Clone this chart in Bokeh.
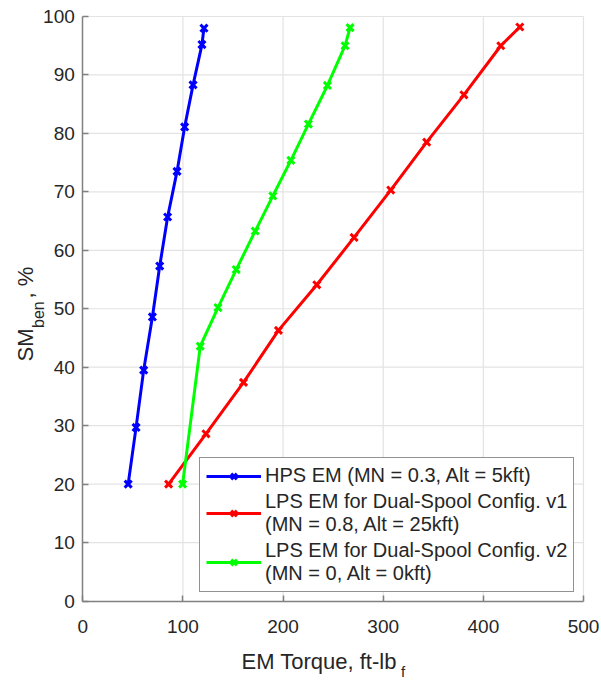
from bokeh.plotting import figure
from bokeh.models import Range1d, Legend, LegendItem, Label, FixedTicker, LinearAxis
from bokeh.embed import file_html
from bokeh.resources import INLINE
import math

# ---- data ----
hps_torque = [45.3, 53.2, 60.8, 69.5, 76.8, 84.7, 94.1, 101.7, 110.1, 119.0, 121.0]
hps_sm = [20.0, 29.7, 39.5, 48.6, 57.3, 65.7, 73.5, 81.1, 88.3, 95.2, 98.0]

lps1_torque = [85.7, 123.0, 160.5, 195.4, 233.7, 270.9, 307.5, 343.4, 380.6, 417.4, 436.4]
lps1_sm = [20.0, 28.6, 37.4, 46.3, 54.1, 62.2, 70.3, 78.5, 86.6, 95.0, 98.2]

lps2_torque = [99.7, 117.3, 135.0, 153.2, 172.2, 189.8, 207.8, 225.3, 244.3, 261.9, 266.9]
lps2_sm = [20.0, 43.6, 50.2, 56.7, 63.3, 69.3, 75.4, 81.6, 88.2, 95.0, 98.1]

series_names = [
    "HPS EM (MN = 0.3, Alt = 5kft)",
    "LPS EM for Dual-Spool Config. v1\n(MN = 0.8, Alt = 25kft)",
    "LPS EM for Dual-Spool Config. v2\n(MN = 0, Alt = 0kft)",
]
series_colors = ["#0000ff", "#ff0000", "#00ff00"]
x_ticks = [0, 100, 200, 300, 400, 500]
y_ticks = [0, 10, 20, 30, 40, 50, 60, 70, 80, 90, 100]

FONT = "Liberation Sans"
TXT = "#262626"
W, H = 601, 681

# plot box inside the canvas (pixels): left/right/top/bottom
BOX_L, BOX_R, BOX_T, BOX_B = 82.3, 583.0, 16.0, 600.5
x0, x1 = x_ticks[0], x_ticks[-1]
y0, y1 = y_ticks[0], y_ticks[-1]
kx = (BOX_R - BOX_L) / (x1 - x0)
ky = (BOX_B - BOX_T) / (y1 - y0)
xr = Range1d(x0 - BOX_L / kx, x0 + (W - BOX_L) / kx)
yr = Range1d(y0 - (H - BOX_B) / ky, y0 + BOX_B / ky)

p = figure(width=W, height=H, output_backend="svg", toolbar_location=None,
           x_range=xr, y_range=yr, x_axis_location=None, y_axis_location=None,
           min_border=0)
p.min_border_left = p.min_border_right = p.min_border_top = p.min_border_bottom = 0
p.outline_line_color = None
p.background_fill_color = "white"
p.border_fill_color = "white"
p.xgrid.visible = False
p.ygrid.visible = False

# grid lines from the tick lists
gx = x_ticks[1:]
gy = y_ticks[1:]
p.segment(x0=gx, y0=[y0] * len(gx), x1=gx, y1=[y1] * len(gx),
          line_color="#e3e3e3", line_width=1.2)
p.segment(x0=[x0] * len(gy), y0=gy, x1=[x1] * len(gy), y1=gy,
          line_color="#e3e3e3", line_width=1.2)

xaxis = LinearAxis(fixed_location=y0, bounds=(x0, x1), ticker=FixedTicker(ticks=x_ticks))
yaxis = LinearAxis(fixed_location=x0, bounds=(y0, y1), ticker=FixedTicker(ticks=y_ticks))
for ax, sd in ((xaxis, 19), (yaxis, 8)):
    ax.axis_line_color = "#808080"
    ax.axis_line_width = 1.5
    ax.major_tick_line_color = "#808080"
    ax.major_tick_line_width = 1.5
    ax.major_tick_in = 6
    ax.major_tick_out = 0
    ax.minor_tick_line_color = None
    ax.major_label_text_font = FONT
    ax.major_label_text_font_size = "19px"
    ax.major_label_text_color = TXT
    ax.major_label_standoff = sd
p.add_layout(xaxis, "below")
p.add_layout(yaxis, "left")

items = []
for xs, ys, name, c in ((hps_torque, hps_sm, series_names[0], series_colors[0]),
                        (lps1_torque, lps1_sm, series_names[1], series_colors[1]),
                        (lps2_torque, lps2_sm, series_names[2], series_colors[2])):
    ln = p.line(xs, ys, line_color=c, line_width=3)
    sc = p.scatter(xs, ys, marker="x", size=10, line_color=c, line_width=3)
    items.append(LegendItem(label=name, renderers=[ln, sc]))

legend = Legend(items=items, location=(199, 89), orientation="vertical")
legend.label_text_font = FONT
legend.label_text_font_size = "20px"
legend.label_text_color = TXT
legend.label_standoff = 4
legend.glyph_width = 55
legend.glyph_height = 20
legend.padding = 6
legend.spacing = 3
legend.margin = 0
legend.border_line_color = "#262626"
legend.border_line_width = 1.2
legend.background_fill_color = "white"
legend.background_fill_alpha = 1.0
p.add_layout(legend, "center")

# axis titles with subscripts; positions given in canvas pixels, converted to data space
def lab(text, px, py, size, angle=0.0):
    p.add_layout(Label(x=x0 + (px - BOX_L) / kx, y=y0 + (BOX_B - py) / ky, text=text,
                       angle=angle, text_font=FONT, text_font_size=size,
                       text_color=TXT, text_align="left", text_baseline="alphabetic"))

lab("EM Torque, ft-lb", 241, 660.5, "22px")
lab("f", 400.5, 670.5, "15px")
lab("SM", 25.3, 361.0, "22px", math.pi / 2)
lab("ben", 37.8, 327.5, "16px", math.pi / 2)
lab(", %", 25.3, 298.0, "22px", math.pi / 2)

open("out.html", "w").write(file_html(p, INLINE))
